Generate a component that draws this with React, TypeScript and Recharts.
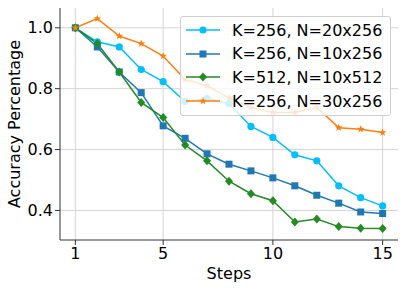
import { LineChart, Line, XAxis, YAxis, CartesianGrid, Legend } from 'recharts';

const steps = [1, 2, 3, 4, 5, 6, 7, 8, 9, 10, 11, 12, 13, 14, 15];
const k256n20 = [1.0, 0.954, 0.937, 0.863, 0.823, 0.758, 0.768, 0.751, 0.676, 0.64, 0.583, 0.563, 0.481, 0.442, 0.415];
const k256n10 = [1.0, 0.937, 0.855, 0.787, 0.678, 0.637, 0.586, 0.552, 0.53, 0.507, 0.481, 0.45, 0.424, 0.395, 0.39];
const k512n10 = [1.0, 0.948, 0.855, 0.755, 0.705, 0.615, 0.563, 0.496, 0.455, 0.432, 0.362, 0.372, 0.347, 0.342, 0.341];
const k256n30 = [1.0, 1.03, 0.973, 0.948, 0.907, 0.83, 0.81, 0.77, 0.738, 0.722, 0.722, 0.738, 0.672, 0.667, 0.656];
const xTicks = [1, 5, 10, 15];
const yTicks = [0.4, 0.6, 0.8, 1.0];

const FONT = "'DejaVu Sans', sans-serif";

const series = [
  { key: 'a', name: 'K=256, N=20x256', color: '#00bfff', marker: 'circle' },
  { key: 'b', name: 'K=256, N=10x256', color: '#1f77b4', marker: 'square' },
  { key: 'c', name: 'K=512, N=10x512', color: '#228b22', marker: 'diamond' },
  { key: 'd', name: 'K=256, N=30x256', color: '#ff7f0e', marker: 'star' },
];

const data = steps.map((s, i) => ({
  step: s,
  a: k256n20[i],
  b: k256n10[i],
  c: k512n10[i],
  d: k256n30[i],
}));

function starPath(cx: number, cy: number, r: number) {
  const pts: string[] = [];
  for (let i = 0; i < 10; i++) {
    const rr = i % 2 === 0 ? r : r * 0.42;
    const a = -Math.PI / 2 + (i * Math.PI) / 5;
    pts.push(`${cx + rr * Math.cos(a)},${cy + rr * Math.sin(a)}`);
  }
  return 'M' + pts.join('L') + 'Z';
}

function Marker({ cx, cy, type, color }: any) {
  if (cx == null || cy == null) return null;
  if (type === 'circle') return <circle cx={cx} cy={cy} r={3.6} fill={color} />;
  if (type === 'square') return <rect x={cx - 3.5} y={cy - 3.5} width={7} height={7} fill={color} />;
  if (type === 'diamond')
    return <path d={`M${cx},${cy - 4.5}L${cx + 4},${cy}L${cx},${cy + 4.5}L${cx - 4},${cy}Z`} fill={color} />;
  return <path d={starPath(cx, cy, 4)} fill={color} />;
}

function LegendBox() {
  return (
    <div
      style={{
        position: 'relative',
        background: 'rgba(255,255,255,0.8)',
        border: '1px solid #d0d0d0',
        borderRadius: 3,
        width: 209,
        height: 98,
        fontFamily: FONT,
        fontSize: 16,
        color: '#000',
      }}
    >
      {series.map((s, i) => (
        <div key={s.key} style={{ position: 'absolute', left: 4, top: 1 + i * 23.7, height: 24, display: 'flex', alignItems: 'center' }}>
          <svg width={36} height={14}>
            <line x1={1} y1={7} x2={35} y2={7} stroke={s.color} strokeWidth={1.5} />
            <Marker cx={18} cy={7} type={s.marker} color={s.color} />
          </svg>
          <span style={{ marginLeft: 11, whiteSpace: 'nowrap' }}>{s.name}</span>
        </div>
      ))}
    </div>
  );
}

export default function App() {
  const tickStyle = { fontSize: 16, fill: '#000', fontFamily: FONT };
  return (
    <div style={{ position: 'absolute', left: 0, top: 0, width: 407, height: 291, background: '#fff' }}>
      <LineChart width={407} height={291} data={data} margin={{ top: 8, right: 9, left: 0, bottom: 0 }}>
        <CartesianGrid stroke="#d4d4d4" strokeWidth={1} verticalValues={xTicks} horizontalValues={yTicks} />
        <XAxis
          dataKey="step"
          type="number"
          domain={[0.3, 15.7]}
          ticks={xTicks}
          height={51}
          tick={tickStyle}
          tickSize={5}
          tickMargin={3}
          stroke="#333"
          allowDataOverflow
          label={{ value: 'Steps', position: 'insideBottom', offset: 12, style: { fontSize: 16, fill: '#000', fontFamily: FONT } }}
        />
        <XAxis xAxisId="top" orientation="top" type="number" domain={[0.3, 15.7]} height={0} tick={false} tickLine={false} stroke="#333" />
        <YAxis
          type="number"
          domain={[0.303, 1.065]}
          ticks={yTicks}
          width={60}
          tick={tickStyle}
          tickSize={5}
          tickMargin={2}
          tickFormatter={(v: number) => v.toFixed(1)}
          stroke="#333"
          allowDataOverflow
          label={{
            value: 'Accuracy Percentage',
            angle: -90,
            position: 'insideLeft',
            offset: 14,
            style: { fontSize: 16, fill: '#000', fontFamily: FONT, textAnchor: 'middle' },
          }}
        />
        <YAxis yAxisId="right" orientation="right" width={0} tick={false} tickLine={false} stroke="#333" />
        {series.map((s) => (
          <Line
            key={s.key}
            dataKey={s.key}
            name={s.name}
            stroke={s.color}
            strokeWidth={1.5}
            isAnimationActive={false}
            dot={(p: any) => <Marker key={`${s.key}-${p.index}`} cx={p.cx} cy={p.cy} type={s.marker} color={s.color} />}
            activeDot={false}
          />
        ))}
        <Legend
          layout="horizontal"
          verticalAlign="middle"
          align="center"
          content={() => <LegendBox />}
          wrapperStyle={{ position: 'absolute', left: 180, top: 16, width: 211, height: 100 }}
        />
      </LineChart>
    </div>
  );
}
